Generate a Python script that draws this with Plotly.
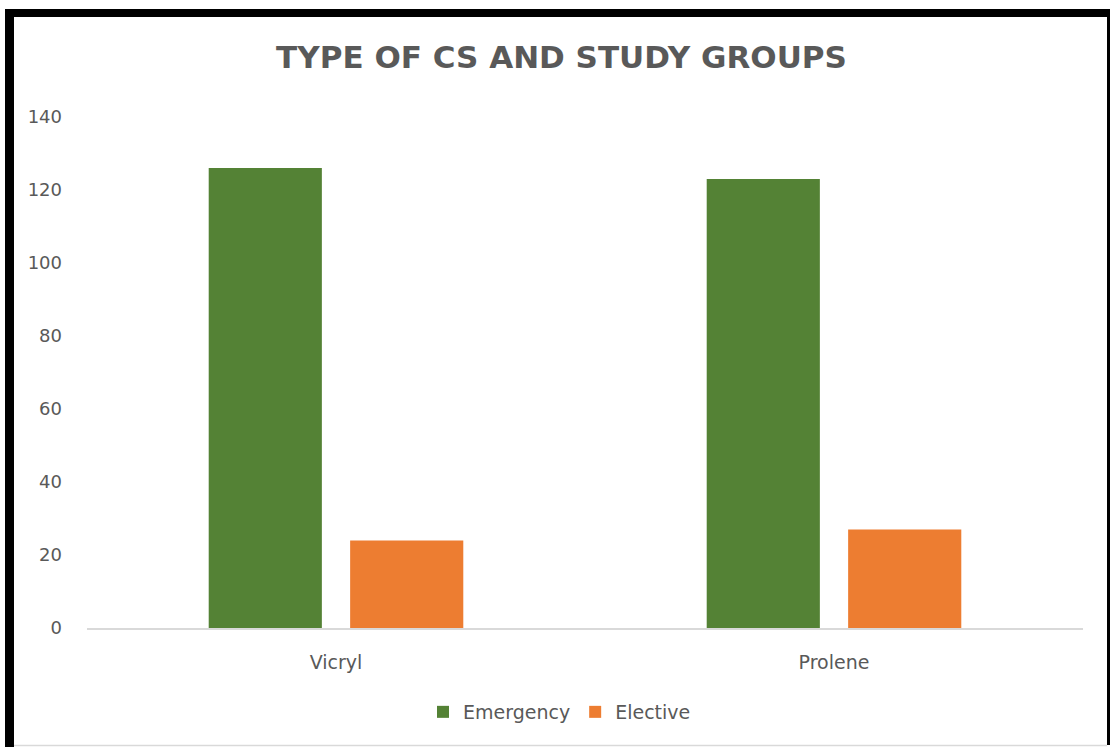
import plotly.graph_objects as go

# Suture groups and caesarean section type counts
groups = ["Vicryl", "Prolene"]
emergency = [126, 123]
elective = [24, 27]
y_ticks = [0, 20, 40, 60, 80, 100, 120, 140]

W, H = 1110, 747
L, R, T, B = 87, 27, 117, 119
plot_w = W - L - R
plot_h = H - T - B

GREY = "#595959"
FONT = "DejaVu Sans, sans-serif"


def px(x):
    return (x - L) / plot_w


def py(y):
    return (H - B - y) / plot_h


fig = go.Figure()
fig.add_trace(go.Bar(name="Emergency", x=groups, y=emergency,
                     marker=dict(color="#548235", line=dict(width=0))))
fig.add_trace(go.Bar(name="Elective", x=groups, y=elective,
                     marker=dict(color="#ED7D31", line=dict(width=0))))

# frame around the chart
frame = [
    (5, 9, 14, 747),      # left
    (5, 9, 1110, 17),     # top
    (1107, 9, 1110, 745), # right
]
shapes = []
for x0, y0, x1, y1 in frame:
    shapes.append(dict(type="rect", xref="paper", yref="paper",
                       x0=px(x0), x1=px(x1), y0=py(y1), y1=py(y0),
                       fillcolor="black", line=dict(width=0), layer="above"))
shapes.append(dict(type="line", xref="paper", yref="paper",
                   x0=px(14), x1=px(1107), y0=py(745.5), y1=py(745.5),
                   line=dict(color="#d9d9d9", width=1.5)))

fig.update_layout(
    width=W, height=H,
    margin=dict(l=L, r=R, t=T, b=B, pad=0),
    paper_bgcolor="white", plot_bgcolor="white",
    barmode="group", bargap=0.432, bargroupgap=0.2,
    font=dict(family=FONT, color=GREY, size=18),
    title=dict(text="<b>TYPE OF CS AND STUDY GROUPS</b>",
               font=dict(family=FONT, size=31, color=GREY),
               x=561.5 / W, xanchor="center", xref="container",
               y=1 - 57 / H, yanchor="middle", yref="container"),
    xaxis=dict(showline=True, linecolor="#d9d9d9", linewidth=1.5,
               ticks="", showgrid=False, zeroline=False,
               ticklabelstandoff=16,
               tickfont=dict(size=19, color=GREY)),
    yaxis=dict(range=[0, 140], tickvals=y_ticks, showgrid=False,
               zeroline=False, showline=False, ticks="",
               ticklabelstandoff=24,
               tickfont=dict(size=18, color=GREY)),
    legend=dict(orientation="h", x=423 / W, xanchor="left", xref="container",
                y=1 - 712 / H, yanchor="middle", yref="container",
                font=dict(size=19, color=GREY), itemwidth=30,
                traceorder="normal"),
    shapes=shapes,
    showlegend=True,
)

fig.write_html("out.html")
